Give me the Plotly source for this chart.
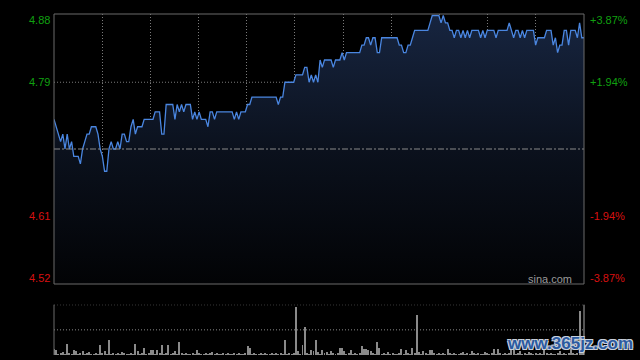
import plotly.graph_objects as go

# ---------------- data ----------------
minutes = list(range(242))
prev_close = 4.70

price = [
    4.74, 4.73, 4.72, 4.71, 4.72, 4.70, 4.72, 4.70, 4.71, 4.69,
    4.69, 4.69, 4.68, 4.70, 4.71, 4.72, 4.72, 4.73, 4.73, 4.73,
    4.72, 4.70, 4.69, 4.67, 4.67, 4.70, 4.71, 4.70, 4.70, 4.71,
    4.70, 4.72, 4.72, 4.71, 4.71, 4.73, 4.74, 4.72, 4.73, 4.73,
    4.73, 4.74, 4.74, 4.74, 4.74, 4.74, 4.75, 4.75, 4.75, 4.72,
    4.72, 4.76, 4.76, 4.76, 4.76, 4.74, 4.76, 4.75, 4.76, 4.75,
    4.76, 4.76, 4.76, 4.74, 4.75, 4.74, 4.75, 4.74, 4.74, 4.74,
    4.73, 4.75, 4.75, 4.74, 4.75, 4.75, 4.75, 4.75, 4.75, 4.75,
    4.75, 4.75, 4.74, 4.75, 4.74, 4.75, 4.75, 4.75, 4.76, 4.76,
    4.77, 4.77, 4.77, 4.77, 4.77, 4.77, 4.77, 4.77, 4.77, 4.77,
    4.77, 4.77, 4.76, 4.77, 4.77, 4.79, 4.79, 4.79, 4.79, 4.79,
    4.80, 4.80, 4.80, 4.80, 4.81, 4.81, 4.79, 4.80, 4.79, 4.80,
    4.79, 4.82, 4.81, 4.82, 4.82, 4.82, 4.82, 4.81, 4.82, 4.82,
    4.82, 4.83, 4.82, 4.83, 4.83, 4.83, 4.83, 4.83, 4.83, 4.83,
    4.84, 4.84, 4.85, 4.85, 4.84, 4.85, 4.85, 4.83, 4.83, 4.85,
    4.85, 4.85, 4.85, 4.85, 4.85, 4.85, 4.85, 4.84, 4.84, 4.83,
    4.83, 4.84, 4.84, 4.85, 4.86, 4.86, 4.86, 4.86, 4.86, 4.86,
    4.86, 4.87, 4.88, 4.88, 4.88, 4.88, 4.87, 4.88, 4.87, 4.87,
    4.86, 4.86, 4.85, 4.86, 4.86, 4.85, 4.86, 4.85, 4.86, 4.85,
    4.86, 4.86, 4.86, 4.86, 4.85, 4.86, 4.85, 4.86, 4.86, 4.86,
    4.86, 4.85, 4.86, 4.86, 4.86, 4.86, 4.86, 4.87, 4.86, 4.85,
    4.86, 4.86, 4.85, 4.86, 4.85, 4.86, 4.86, 4.86, 4.86, 4.84,
    4.85, 4.85, 4.85, 4.85, 4.86, 4.86, 4.86, 4.84, 4.85, 4.83,
    4.84, 4.84, 4.86, 4.86, 4.84, 4.86, 4.86, 4.86, 4.85, 4.87,
    4.85, 4.85,
]

volume = [
    6.7, 5, 1, 2, 3, 1, 11, 2, 1, 5,
    4, 1, 2, 4, 1, 2, 3, 1, 1, 2,
    1, 10, 2, 4, 1, 15, 1, 2, 1, 2,
    1, 3, 2, 1, 1, 2, 1, 11, 4.3, 1,
    2, 7, 1, 2, 5, 5.7, 1, 5, 2, 10,
    1, 2, 10, 1, 2, 4.3, 1, 13, 2, 1,
    2, 1, 1, 2, 1, 5, 2, 1, 1, 2,
    1, 2, 3, 1, 2, 1, 1, 2, 1, 2,
    1, 1, 2, 1, 2, 1, 1, 2, 9, 7,
    1, 2, 1, 1, 2, 1, 2, 1, 1, 2,
    1, 2, 1, 2, 1, 15, 1, 2, 1, 2,
    48.3, 4, 1, 10, 27.7, 2, 1, 5, 4, 15.7,
    3, 1, 5.7, 2, 3, 1, 4, 2, 1, 2,
    7.7, 7.7, 4, 1, 2, 5.7, 1, 2, 1, 2,
    9, 6.7, 6.7, 5.7, 4.3, 2, 1, 13, 7.3, 1,
    2, 1, 3, 1, 2, 1, 1, 2, 6.7, 1,
    5, 2, 1, 7.7, 2, 40, 3, 1, 4, 2,
    1, 5, 5, 2, 1, 2, 1, 2, 1, 6.7,
    2, 1, 2, 1, 1, 2, 3, 1, 2, 1,
    4, 2, 1, 2, 1, 1, 3, 2, 1, 2,
    6.7, 1, 6.7, 2, 1, 2, 1, 2, 11.7, 9,
    1, 2, 4, 1, 2, 1, 3, 2, 1, 2,
    1, 2, 1, 5, 2, 1, 2, 1, 1, 2,
    4, 1, 2, 1, 2, 6, 2, 1, 2, 44,
    6, 2,
]

left_ticks = [4.88, 4.79, 4.61, 4.52]
left_labels = ["4.88", "4.79", "4.61", "4.52"]
right_labels = ["+3.87%", "+1.94%", "-1.94%", "-3.87%"]
grid_levels = [4.79, 4.61]

GREEN = "#10a010"
RED = "#d81010"
label_colors = [GREEN, GREEN, RED, RED]

# ---------------- figure ----------------
fig = go.Figure()

fig.add_trace(go.Scatter(
    x=minutes, y=price, mode="lines",
    line=dict(color="#4a86e0", width=1.3),
    fill="tozeroy",
    fillgradient=dict(type="vertical", start=4.518, stop=4.88,
                      colorscale=[[0, "#020305"], [0.5, "#0b111d"], [1, "#172540"]]),
    xaxis="x", yaxis="y", hoverinfo="skip", showlegend=False,
))

fig.add_trace(go.Bar(
    x=minutes, y=volume, marker=dict(color="#8a8a8a", line=dict(width=0)),
    width=0.45, xaxis="x2", yaxis="y2", hoverinfo="skip", showlegend=False,
))

shapes = []
for lv in grid_levels:
    shapes.append(dict(type="line", xref="x domain", yref="y", x0=0, x1=1, y0=lv, y1=lv,
                       line=dict(color="#7a7a7a", width=1, dash="1px,2px"), layer="below"))
shapes.append(dict(type="line", xref="x domain", yref="y", x0=0, x1=1, y0=prev_close, y1=prev_close,
                   line=dict(color="#8a8a8a", width=1, dash="6px,2px,2px,2px"), layer="above"))
shapes.append(dict(type="rect", xref="x domain", yref="y domain", x0=0, x1=1, y0=0, y1=1,
                   line=dict(color="#6a6a6a", width=1)))
for lv in [50, 25]:
    shapes.append(dict(type="line", xref="x2 domain", yref="y2", x0=0, x1=1, y0=lv, y1=lv,
                       line=dict(color="#8a8a8a", width=1, dash="1px,2px")))
shapes.append(dict(type="line", xref="x2 domain", yref="y2 domain", x0=0, x1=0, y0=0, y1=1,
                   line=dict(color="#6a6a6a", width=1)))
shapes.append(dict(type="line", xref="x2 domain", yref="y2 domain", x0=1, x1=1, y0=0, y1=1,
                   line=dict(color="#aaaaaa", width=1)))

annotations = []
shifts = [-5, 0, 0, 5]
for v, lab, rlab, col, sh in zip(left_ticks, left_labels, right_labels, label_colors, shifts):
    annotations.append(dict(text=lab, xref="paper", x=0, xanchor="right", xshift=-2,
                            yref="y", y=v, yanchor="middle", yshift=sh, showarrow=False,
                            font=dict(family="Liberation Sans, Arial", size=11, color=col)))
    annotations.append(dict(text=rlab, xref="paper", x=1, xanchor="left", xshift=4,
                            yref="y", y=v, yanchor="middle", yshift=sh, showarrow=False,
                            font=dict(family="Liberation Sans, Arial", size=11, color=col)))

annotations.append(dict(text="sina.com", xref="paper", x=1, xanchor="right", xshift=-10,
                        yref="y domain", y=0, yanchor="middle", yshift=5, showarrow=False,
                        font=dict(family="Liberation Sans, Arial", size=11, color="#9a9a9a")))

annotations.append(dict(text="<b>www.365jz.com</b>", xref="paper", x=1, xanchor="right", xshift=51,
                        yref="paper", y=0, yanchor="middle", yshift=12, showarrow=False,
                        font=dict(family="Liberation Sans, Arial", size=17, color="#2b5aa0",
                                  shadow="-1px -1px 0 #c8d0dc, 1px -1px 0 #c8d0dc, -1px 1px 0 #c8d0dc, 1px 1px 0 #c8d0dc")))

fig.update_layout(
    width=640, height=360,
    margin=dict(l=54, r=56, t=14, b=5),
    paper_bgcolor="#000000", plot_bgcolor="#000000",
    xaxis=dict(domain=[0, 1], anchor="y", range=[0, 241], tick0=0, dtick=241 / 11,
               showgrid=True, gridcolor="#7a7a7a", griddash="1px,2px", gridwidth=1,
               showticklabels=False, zeroline=False, ticks=""),
    yaxis=dict(domain=[0.2082, 1], anchor="x", range=[4.518, 4.882], showgrid=False,
               showticklabels=False, zeroline=False, ticks=""),
    xaxis2=dict(domain=[0, 1], anchor="y2", matches="x", showgrid=False,
                showticklabels=False, zeroline=False, ticks=""),
    yaxis2=dict(domain=[0, 0.1475], anchor="x2", range=[0, 50], showgrid=False,
                showticklabels=False, zeroline=False, ticks=""),
    shapes=shapes, annotations=annotations,
    bargap=0,
)

fig.write_html("out.html", config={"displayModeBar": False},
               post_script="document.body.style.margin='0';document.body.style.background='#000';")
